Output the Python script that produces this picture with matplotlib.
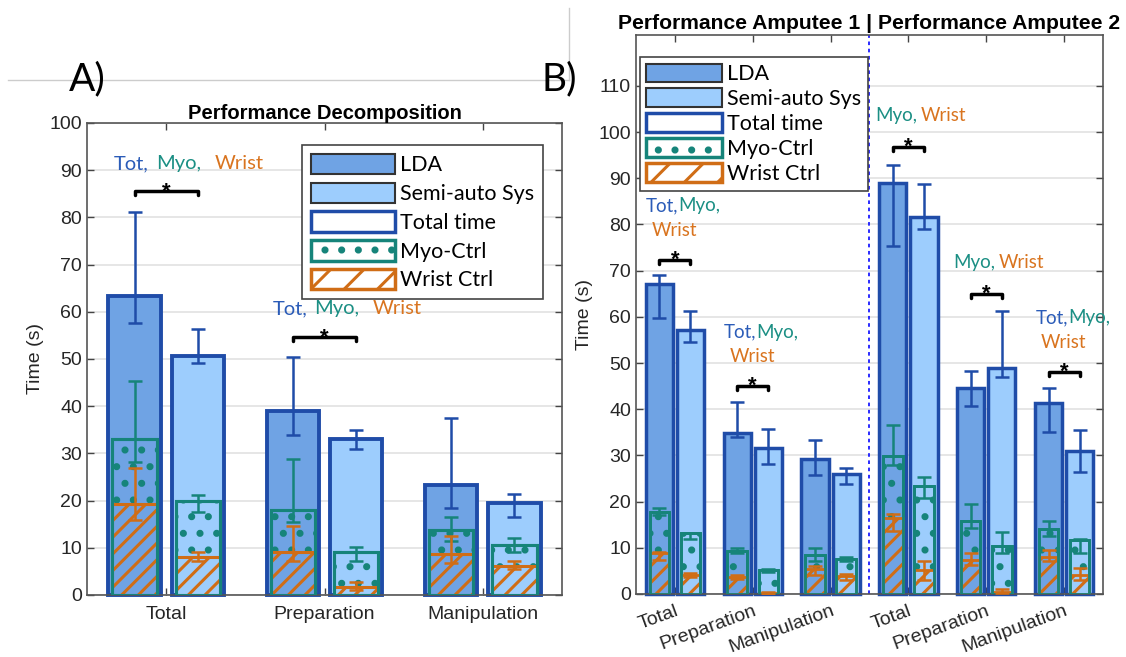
import matplotlib
matplotlib.use('Agg')
import matplotlib.pyplot as plt
import matplotlib.hatch as mhatch
from matplotlib.patches import Patch
from matplotlib.lines import Line2D
import numpy as np

plt.rcParams['hatch.linewidth'] = 2.2
plt.rcParams['font.family'] = ['Liberation Sans', 'DejaVu Sans']
LBL = ['Lato', 'DejaVu Sans']


# bigger dots for the '.' hatch (MATLAB-like dotted fill); row count must stay even
class BigDots(mhatch.Circles):
    size = 0.12
    filled = True

    def __init__(self, hatch, density):
        self.num_rows = hatch.count('.') * 6
        super().__init__(hatch, density)


mhatch._hatch_types = [BigDots if h is mhatch.SmallFilledCircles else h
                       for h in mhatch._hatch_types]

# ---------------- Panel A: pooled performance ----------------
cats_a = ['Total', 'Preparation', 'Manipulation']
# mean, and lower / upper ends of the error bars (s)
a_lda_tot = [63.4, 38.9, 23.2]
a_lda_tot_err = [[57.7, 33.8, 18.5], [81.1, 50.5, 37.4]]
a_lda_myo = [33.0, 17.9, 13.8]
a_lda_myo_err = [[28.2, 15.4, 11.5], [45.3, 28.9, 16.5]]
a_lda_wri = [19.3, 9.1, 8.6]
a_lda_wri_err = [[15.8, 7.3, 6.7], [26.8, 14.7, 12.4]]
a_sem_tot = [50.6, 33.0, 19.5]
a_sem_tot_err = [[49.2, 30.9, 16.6], [56.4, 34.9, 21.4]]
a_sem_myo = [19.9, 9.2, 10.6]
a_sem_myo_err = [[17.6, 7.3, 9.2], [21.1, 10.1, 12.0]]
a_sem_wri = [8.0, 1.6, 6.2]
a_sem_wri_err = [[7.3, 1.1, 5.5], [9.2, 2.7, 7.3]]

# ---------------- Panel B: amputee 1 (first 3) and amputee 2 (last 3) ----------------
cats_b = ['Total', 'Preparation', 'Manipulation', 'Total', 'Preparation', 'Manipulation']
b_lda_tot = [67.2, 34.8, 29.2, 89.0, 44.5, 41.4]
b_lda_tot_err = [[59.8, 33.9, 25.7, 75.4, 40.7, 35.1], [69.0, 41.5, 33.4, 92.9, 48.3, 44.5]]
b_lda_myo = [17.7, 9.2, 8.4, 29.9, 15.9, 14.1]
b_lda_myo_err = [[17.2, 8.9, 7.1, 28.0, 14.3, 12.5], [18.6, 9.9, 9.9, 36.5, 19.5, 15.7]]
b_lda_wri = [8.9, 3.7, 5.4, 16.5, 7.4, 8.1]
b_lda_wri_err = [[7.4, 3.2, 4.2, 13.6, 6.3, 7.1], [9.1, 4.2, 6.0, 17.3, 8.9, 9.6]]
b_sem_tot = [57.2, 31.7, 25.9, 81.6, 48.9, 30.9]
b_sem_tot_err = [[54.5, 28.1, 23.8, 79.0, 46.9, 26.3], [61.3, 35.7, 27.2, 88.8, 61.3, 35.4]]
b_sem_myo = [13.1, 5.1, 7.6, 23.3, 10.3, 11.6]
b_sem_myo_err = [[11.9, 4.8, 7.1, 20.8, 8.9, 8.9], [13.3, 5.4, 7.9, 25.4, 13.5, 12.0]]
b_sem_wri = [4.2, 0.3, 3.8, 5.3, 0.5, 4.2]
b_sem_wri_err = [[3.7, 0.1, 3.1, 3.1, 0.2, 3.1], [4.6, 0.5, 4.3, 7.2, 1.1, 5.6]]

# significance marks: (group index, bracket height, text lines)
sig_a = [(1, 85.5, [[('Tot,', 'b'), ('Myo,', 't'), ('Wrist', 'o')]]),
         (2, 54.7, [[('Tot,', 'b'), ('Myo,', 't'), ('Wrist', 'o')]])]
sig_b = [(1, 72.3, [[('Tot,', 'b'), ('Myo,', 't')], [('Wrist', 'o')]]),
         (2, 45.0, [[('Tot,', 'b'), ('Myo,', 't')], [('Wrist', 'o')]]),
         (4, 96.7, [[('Myo,', 't'), ('Wrist', 'o')]]),
         (5, 64.9, [[('Myo,', 't'), ('Wrist', 'o')]]),
         (6, 48.1, [[('Tot,', 'b'), ('Myo,', 't')], [('Wrist', 'o')]])]

LDA_C = '#6fa3e4'
SEM_C = '#9dcdfd'
BLUE = '#1f4ca8'
TEAL = '#16847a'
ORANGE = '#d06d16'
TXT = {'b': '#2b5cb8', 't': '#1b8f84', 'o': '#d9741f'}


def style_axes(ax, ymax, yticks):
    ax.set_ylim(0, ymax)
    ax.set_yticks(yticks)
    ax.yaxis.grid(True, color='#e4e4e4', lw=1.3)
    ax.set_axisbelow(True)
    ax.tick_params(direction='in', top=True, right=True, length=5, width=1,
                   colors='#444444', labelcolor='#262626', labelsize=14)
    for s in ax.spines.values():
        s.set_color('#555555')
        s.set_linewidth(1.2)
    ax.set_ylabel('Time (s)', fontsize=14, color='#262626')


def draw_system(ax, x, face, tot, tot_err, myo, myo_err, wri, wri_err, w_out, w_in, lw_out, lw_in):
    ax.bar(x, tot, w_out, color=face, edgecolor=BLUE, lw=lw_out, zorder=2, clip_on=False)
    ax.bar(x, myo, w_in, color=face, edgecolor=TEAL, hatch='.', lw=lw_in, zorder=3)
    ax.bar(x, wri, w_in, color=face, edgecolor=ORANGE, hatch='//', lw=lw_in, zorder=4)
    ax.bar(x, myo, w_in, color='none', edgecolor=TEAL, lw=lw_in, zorder=5)
    for vals, err, col in [(tot, tot_err, BLUE), (myo, myo_err, TEAL), (wri, wri_err, ORANGE)]:
        v = np.asarray(vals)
        lo, hi = np.asarray(err[0]), np.asarray(err[1])
        ax.errorbar(x, v, yerr=[v - lo, hi - v], fmt='none', ecolor=col,
                    elinewidth=1.8, capsize=5, capthick=1.8, zorder=6)


def colored_line(ax, x, y, parts, size, gaps):
    t = ax.text(x, y, parts[0][0], color=TXT[parts[0][1]], fontsize=size,
                family=LBL, va='center', ha='left', zorder=7)
    for (word, c), gap in zip(parts[1:], gaps):
        t = ax.annotate(word, xy=(1, 0.5), xycoords=t, xytext=(gap, 0),
                        textcoords='offset points', color=TXT[c], fontsize=size,
                        family=LBL, va='center', ha='left', zorder=7)


def bracket(ax, xc, off, y, tick, star_dy, star_size):
    ax.plot([xc - off, xc - off, xc + off, xc + off], [y - tick, y, y, y - tick],
            color='black', lw=2.5, zorder=7, solid_capstyle='round')
    ax.text(xc, y + star_dy, '*', ha='center', va='baseline', fontsize=star_size,
            fontweight='bold', zorder=7)


legend_handles = [
    Patch(facecolor=LDA_C, edgecolor='#333333', lw=1.5, label='LDA'),
    Patch(facecolor=SEM_C, edgecolor='#333333', lw=1.5, label='Semi-auto Sys'),
    Patch(facecolor='white', edgecolor=BLUE, lw=2.5, label='Total time'),
    Patch(facecolor='white', edgecolor=TEAL, lw=2.5, hatch='.', label='Myo-Ctrl'),
    Patch(facecolor='white', edgecolor=ORANGE, lw=2.5, hatch='/', label='Wrist Ctrl'),
]

fig = plt.figure(figsize=(11.26, 6.57), dpi=100)

# ---------------- Panel A ----------------
ax_a = fig.add_axes([0.0773, 0.0944, 0.4218, 0.7184])
xa = np.arange(1, len(cats_a) + 1)
draw_system(ax_a, xa - 0.2, LDA_C, a_lda_tot, a_lda_tot_err, a_lda_myo, a_lda_myo_err,
            a_lda_wri, a_lda_wri_err, 0.33, 0.28, 2.8, 2.2)
draw_system(ax_a, xa + 0.2, SEM_C, a_sem_tot, a_sem_tot_err, a_sem_myo, a_sem_myo_err,
            a_sem_wri, a_sem_wri_err, 0.33, 0.28, 2.8, 2.2)
ax_a.set_xlim(0.5, 3.5)
ax_a.set_xticks(xa)
ax_a.set_xticklabels(cats_a)
style_axes(ax_a, 100, np.arange(0, 101, 10))
ax_a.tick_params(axis='x', pad=8)
ax_a.set_title('Performance Decomposition', fontweight='bold', fontsize=14.5, pad=3)
for g, y, lines in sig_a:
    bracket(ax_a, g, 0.2, y, 0.8, -1.4, 16)
    colored_line(ax_a, g - 0.33, y + 5.9, lines[0], 14.5, [5, 10])
leg = ax_a.legend(handles=legend_handles, loc='upper right', bbox_to_anchor=(0.96, 0.953),
                  prop={'family': LBL, 'size': 15.5}, handlelength=3.9, handleheight=1.1,
                  handletextpad=0.25, labelspacing=0.33, borderpad=0.4, borderaxespad=0,
                  fancybox=False, edgecolor='#444444', framealpha=1)
leg.get_frame().set_linewidth(1.2)

# ---------------- Panel B ----------------
ax_b = fig.add_axes([0.5648, 0.0959, 0.4148, 0.8508])
xb = np.arange(1, len(cats_b) + 1)
draw_system(ax_b, xb - 0.2, LDA_C, b_lda_tot, b_lda_tot_err, b_lda_myo, b_lda_myo_err,
            b_lda_wri, b_lda_wri_err, 0.35, 0.25, 2.5, 2.0)
draw_system(ax_b, xb + 0.2, SEM_C, b_sem_tot, b_sem_tot_err, b_sem_myo, b_sem_myo_err,
            b_sem_wri, b_sem_wri_err, 0.35, 0.25, 2.5, 2.0)
ax_b.set_xlim(0.5, 6.5)
ax_b.set_xticks(xb)
style_axes(ax_b, 121, np.arange(0, 111, 10))
ax_b.set_xticklabels(cats_b, rotation=20, ha='right', rotation_mode='anchor')
ax_b.tick_params(axis='x', labelsize=14, pad=6)
ax_b.axvline(3.5, color='#1a1aff', lw=1.3, ls=(0, (2, 2)), zorder=1)
ax_b.set_title('Performance Amputee 1 | Performance Amputee 2', fontweight='bold',
               fontsize=15.2, pad=4)
for g, y, lines in sig_b:
    bracket(ax_b, g, 0.2, y, 0.9, -1.2, 16)
    if len(lines) == 2:
        colored_line(ax_b, g - 0.37, y + 11.7, lines[0], 13.5, [0])
        colored_line(ax_b, g - 0.30, y + 6.4, lines[1], 13.5, [])
    else:
        colored_line(ax_b, g - 0.42, y + 6.8, lines[0], 13.5, [2])
leg = ax_b.legend(handles=legend_handles, loc='upper left', bbox_to_anchor=(0.0086, 0.9606),
                  prop={'family': LBL, 'size': 15.5}, handlelength=3.5, handleheight=0.95,
                  handletextpad=0.25, labelspacing=0.2, borderpad=0.3, borderaxespad=0,
                  fancybox=False, edgecolor='#444444', framealpha=1)
leg.get_frame().set_linewidth(1.2)

# panel letters and the thin screenshot guide lines
fig.text(0.0613, 0.88, 'A)', fontsize=28, family=LBL, va='center', ha='left')
fig.text(0.4805, 0.88, 'B)', fontsize=28, family=LBL, va='center', ha='left')
fig.add_artist(Line2D([0.007, 0.505], [1 - 80 / 657, 1 - 80 / 657], color='#cccccc', lw=1))
fig.add_artist(Line2D([0.505, 0.505], [1 - 8 / 657, 1 - 80 / 657], color='#cccccc', lw=1))

fig.savefig('out.png', dpi=100)
